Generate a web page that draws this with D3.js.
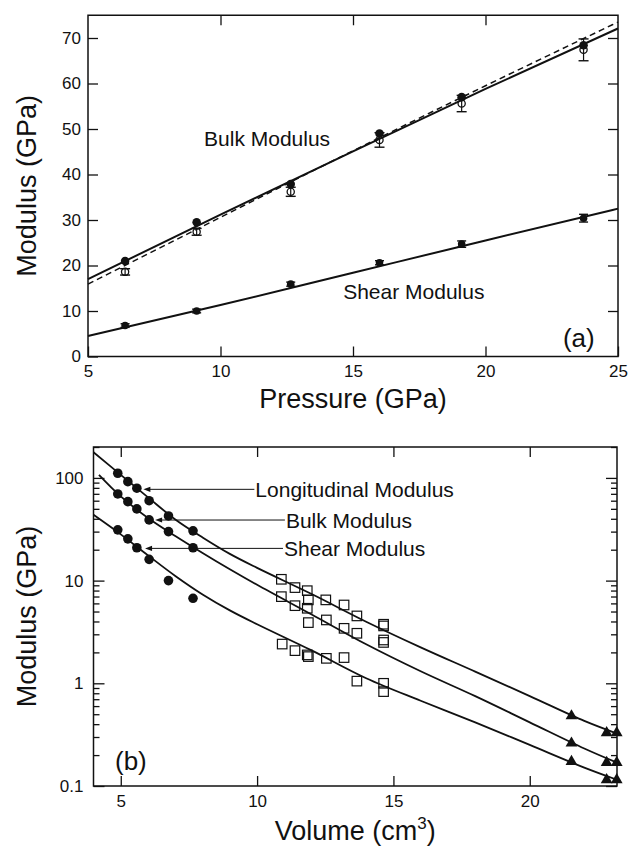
<!DOCTYPE html>
<html>
<head>
<meta charset="utf-8">
<script src="https://cdn.jsdelivr.net/npm/d3@7"></script>
<style>
  body { margin: 0; background: #fff; }
  text { font-family: "Liberation Sans", Arial, Helvetica, sans-serif; fill: #111; }
</style>
</head>
<body>
<svg id="chart" width="633" height="850"></svg>
<script>
//-------------panel (a) data: modulus vs pressure-----------
var pressure    = [6.4, 9.1, 12.65, 16.0, 19.1, 23.7];
var bulkFilled  = [21.0, 29.5, 37.9, 49.0, 57.0, 68.4];
var bulkOpen    = [18.6, 27.4, 36.2, 47.6, 55.6, 67.4];
var bulkOpenErr = [0.7, 0.75, 1.0, 1.6, 1.8, 2.4];
var shearFilled = [6.8, 10.0, 15.9, 20.6, 24.7, 30.4];
var shearErr    = [0.4, 0.4, 0.45, 0.45, 0.7, 0.85];

// fitted lines
var fitP        = [5, 10, 15, 20, 25];
var bulkFit     = [17.0, 31.2, 45.1, 58.8, 72.1];
var bulkFitDash = [15.9, 30.6, 45.2, 59.5, 73.5];
var shearFit    = [4.5, 11.3, 18.4, 25.5, 32.5];

var xTicksA = [5, 10, 15, 20, 25];
var yTicksA = [0, 10, 20, 30, 40, 50, 60, 70];

//-------------panel (b) data: modulus vs volume-------------
var volCircle   = [4.89, 5.26, 5.59, 6.04, 6.75, 7.65];
var longCircle  = [111, 92, 79.4, 60, 42.6, 30.5];
var bulkCircle  = [69.8, 58.7, 49.9, 39, 30, 20.9];
var shearCircle = [31.2, 25.5, 20.9, 16.1, 10.0, 6.73];

var volSquare = [10.89, 11.39, 11.84, 10.89, 11.88, 12.52, 13.19, 11.39, 11.84, 13.66,
                 12.54, 11.88, 14.64, 14.64, 13.19, 13.66, 14.64, 14.64, 10.92, 11.39,
                 11.84, 11.88, 12.54, 13.19, 13.66, 14.64, 14.64];
var modSquare = [10.3, 8.55, 7.98, 6.98, 6.49, 6.49, 5.79, 5.7, 5.38, 4.53,
                 4.14, 3.9, 3.76, 3.62, 3.43, 3.07, 2.64, 2.5, 2.41, 2.08,
                 1.89, 1.82, 1.75, 1.78, 1.05, 1.0, 0.83];

var volTri   = [21.53, 22.82, 23.19];
var longTri  = [0.481, 0.330, 0.330];
var bulkTri  = [0.261, 0.169, 0.169];
var shearTri = [0.173, 0.115, 0.115];

// model curves
var curveV      = [4, 5, 6, 7, 8, 9, 10, 12, 14, 16, 18, 20, 22, 23.2];
var bulkCurveV  = [4.2, 5, 6, 7, 8, 9, 10, 12, 14, 16, 18, 20, 22, 23.2];
var longCurve   = [178, 107, 64.6, 39.4, 26.3, 18.2, 13.3, 7.4, 3.98, 2.24, 1.30, 0.75, 0.43, 0.324];
var bulkCurve   = [107, 66, 40.7, 27.2, 18.6, 12.9, 9.1, 4.68, 2.4, 1.31, 0.75, 0.417, 0.232, 0.169];
var shearCurve  = [43.7, 28.2, 17.6, 11.1, 7.33, 5.13, 3.76, 2.09, 1.12, 0.676, 0.417, 0.251, 0.151, 0.115];

var xTicksB = [5, 10, 15, 20];
var yTicksB = [0.1, 1, 10, 100];
var yMinorB = [];
[0.1, 1, 10, 100].forEach(function(dec) {
  for (var k = 2; k <= 9; k++) { if (dec * k <= 200) yMinorB.push(dec * k); }
});

function zip(a, b) { return a.map(function(v, i) { return [v, b[i]]; }); }

var svg = d3.select("#chart");
svg.append("rect").attr("width", 633).attr("height", 850).attr("fill", "#fff");

var ink = "#111";

function styleAxis(g, size) {
  g.select(".domain").remove();
  g.selectAll("line").attr("stroke", ink).attr("stroke-width", 1.3);
  g.selectAll("text").attr("font-size", size).attr("fill", ink)
    .style("font-family", "'Liberation Sans', Arial, sans-serif");
}

function errBar(g, x, y0, y1, cap) {
  g.append("line").attr("x1", x).attr("x2", x).attr("y1", y0).attr("y2", y1)
    .attr("stroke", ink).attr("stroke-width", 1.2);
  [y0, y1].forEach(function(yy) {
    g.append("line").attr("x1", x - cap / 2).attr("x2", x + cap / 2).attr("y1", yy).attr("y2", yy)
      .attr("stroke", ink).attr("stroke-width", 1.4);
  });
}

//===================== panel (a) =====================
var xA = d3.scaleLinear().domain([5, 25]).range([88, 618]);
var yA = d3.scaleLinear().domain([0, 75]).range([356.5, 15.25]);
var gA = svg.append("g");

gA.append("g").attr("transform", "translate(0," + yA(0) + ")")
  .call(d3.axisBottom(xA).tickValues(xTicksA).tickSize(-10).tickSizeOuter(0).tickPadding(8))
  .call(styleAxis, 17);
gA.append("g").attr("transform", "translate(0," + yA(75) + ")")
  .call(d3.axisTop(xA).tickValues([10, 15, 20]).tickSize(-10).tickSizeOuter(0).tickFormat(""))
  .call(styleAxis, 17);
gA.append("g").attr("transform", "translate(" + xA(5) + ",0)")
  .call(d3.axisLeft(yA).tickValues(yTicksA).tickSize(-10).tickSizeOuter(0).tickPadding(7))
  .call(styleAxis, 17);
gA.append("g").attr("transform", "translate(" + xA(25) + ",0)")
  .call(d3.axisRight(yA).tickValues(yTicksA.slice(1)).tickSize(-10).tickSizeOuter(0).tickFormat(""))
  .call(styleAxis, 17);

gA.append("rect").attr("x", xA(5)).attr("y", yA(75))
  .attr("width", xA(25) - xA(5)).attr("height", yA(0) - yA(75))
  .attr("fill", "none").attr("stroke", ink).attr("stroke-width", 1.5);

var lineA = d3.line().x(function(d) { return xA(d[0]); }).y(function(d) { return yA(d[1]); })
  .curve(d3.curveMonotoneX);

gA.append("path").datum(zip(fitP, bulkFitDash)).attr("d", lineA)
  .attr("fill", "none").attr("stroke", ink).attr("stroke-width", 1.5).attr("stroke-dasharray", "6,4");
gA.append("path").datum(zip(fitP, bulkFit)).attr("d", lineA)
  .attr("fill", "none").attr("stroke", ink).attr("stroke-width", 2);
gA.append("path").datum(zip(fitP, shearFit)).attr("d", lineA)
  .attr("fill", "none").attr("stroke", ink).attr("stroke-width", 2);

// open bulk circles with error bars
pressure.forEach(function(p, i) {
  errBar(gA, xA(p), yA(bulkOpen[i] - bulkOpenErr[i]), yA(bulkOpen[i] + bulkOpenErr[i]), 10);
  errBar(gA, xA(p), yA(shearFilled[i] - shearErr[i]), yA(shearFilled[i] + shearErr[i]), 9);
});
gA.selectAll(".bopen").data(zip(pressure, bulkOpen)).enter().append("circle")
  .attr("cx", function(d) { return xA(d[0]); }).attr("cy", function(d) { return yA(d[1]); })
  .attr("r", 3.6).attr("fill", "none").attr("stroke", ink).attr("stroke-width", 1.3);
gA.selectAll(".bfill").data(zip(pressure, bulkFilled)).enter().append("circle")
  .attr("cx", function(d) { return xA(d[0]); }).attr("cy", function(d) { return yA(d[1]); })
  .attr("r", 4.3).attr("fill", ink);
gA.selectAll(".sfill").data(zip(pressure, shearFilled)).enter().append("circle")
  .attr("cx", function(d) { return xA(d[0]); }).attr("cy", function(d) { return yA(d[1]); })
  .attr("r", 3.8).attr("fill", ink);

gA.append("text").attr("x", xA(9.38)).attr("y", yA(46.3)).attr("font-size", 21).text("Bulk Modulus");
gA.append("text").attr("x", xA(14.63)).attr("y", yA(12.57)).attr("font-size", 21).text("Shear Modulus");
gA.append("text").attr("x", xA(22.92)).attr("y", yA(2.1)).attr("font-size", 26).text("(a)");

gA.append("text").attr("transform", "translate(36," + ((yA(0) + yA(75)) / 2) + ") rotate(-90)")
  .attr("text-anchor", "middle").attr("font-size", 27).text("Modulus (GPa)");
gA.append("text").attr("x", (xA(5) + xA(25)) / 2).attr("y", 408)
  .attr("text-anchor", "middle").attr("font-size", 27).text("Pressure (GPa)");

//===================== panel (b) =====================
var xB = d3.scaleLinear().domain([4, 23.2]).range([93.5, 617]);
var yB = d3.scaleLog().domain([0.1, 200]).range([786, 447]);
var gB = svg.append("g");

gB.append("g").attr("transform", "translate(0," + yB(0.1) + ")")
  .call(d3.axisBottom(xB).tickValues(xTicksB).tickSize(-10).tickSizeOuter(0).tickPadding(9))
  .call(styleAxis, 17);
gB.append("g").attr("transform", "translate(0," + yB(200) + ")")
  .call(d3.axisTop(xB).tickValues(xTicksB).tickSize(-10).tickSizeOuter(0).tickFormat(""))
  .call(styleAxis, 17);
gB.append("g").attr("transform", "translate(" + xB(4) + ",0)")
  .call(d3.axisLeft(yB).tickValues(yTicksB).tickSize(-11).tickSizeOuter(0).tickPadding(10)
    .tickFormat(function(d) { return d < 1 ? "0.1" : d3.format("d")(d); }))
  .call(styleAxis, 17);
gB.append("g").attr("transform", "translate(" + xB(4) + ",0)")
  .call(d3.axisLeft(yB).tickValues(yMinorB).tickSize(-6).tickSizeOuter(0).tickFormat(""))
  .call(styleAxis, 17);
gB.append("g").attr("transform", "translate(" + xB(23.2) + ",0)")
  .call(d3.axisRight(yB).tickValues(yTicksB).tickSize(-11).tickSizeOuter(0).tickFormat(""))
  .call(styleAxis, 17);
gB.append("g").attr("transform", "translate(" + xB(23.2) + ",0)")
  .call(d3.axisRight(yB).tickValues(yMinorB).tickSize(-6).tickSizeOuter(0).tickFormat(""))
  .call(styleAxis, 17);

gB.append("rect").attr("x", xB(4)).attr("y", yB(200))
  .attr("width", xB(23.2) - xB(4)).attr("height", yB(0.1) - yB(200))
  .attr("fill", "none").attr("stroke", ink).attr("stroke-width", 1.5);

var lineB = d3.line().x(function(d) { return xB(d[0]); }).y(function(d) { return yB(d[1]); })
  .curve(d3.curveCatmullRom.alpha(0.5));

[zip(curveV, longCurve), zip(bulkCurveV, bulkCurve), zip(curveV, shearCurve)].forEach(function(c) {
  gB.append("path").datum(c).attr("d", lineB)
    .attr("fill", "none").attr("stroke", ink).attr("stroke-width", 1.8);
});

[longCircle, bulkCircle, shearCircle].forEach(function(arr) {
  gB.selectAll(null).data(zip(volCircle, arr)).enter().append("circle")
    .attr("cx", function(d) { return xB(d[0]); }).attr("cy", function(d) { return yB(d[1]); })
    .attr("r", 4.8).attr("fill", ink);
});

var sq = 9.5;
gB.selectAll(".sq").data(zip(volSquare, modSquare)).enter().append("rect")
  .attr("x", function(d) { return xB(d[0]) - sq / 2; }).attr("y", function(d) { return yB(d[1]) - sq / 2; })
  .attr("width", sq).attr("height", sq)
  .attr("fill", "none").attr("stroke", ink).attr("stroke-width", 1.2);

var tri = d3.symbol().type(d3.symbolTriangle).size(60);
[longTri, bulkTri, shearTri].forEach(function(arr) {
  gB.selectAll(null).data(zip(volTri, arr)).enter().append("path")
    .attr("d", tri)
    .attr("transform", function(d) { return "translate(" + xB(d[0]) + "," + yB(d[1]) + ")"; })
    .attr("fill", ink);
});

// labels with arrows
var arrowLabels = [
  {text: "Longitudinal Modulus", tip: 5.83, end: 9.9, m: 77.4},
  {text: "Bulk Modulus", tip: 6.26, end: 11.02, m: 38.9},
  {text: "Shear Modulus", tip: 5.89, end: 10.95, m: 20.6}
];
arrowLabels.forEach(function(a) {
  var y = yB(a.m), x0 = xB(a.tip), x1 = xB(a.end);
  gB.append("line").attr("x1", x0 + 4).attr("x2", x1).attr("y1", y).attr("y2", y)
    .attr("stroke", ink).attr("stroke-width", 1);
  gB.append("path").attr("d", "M" + x0 + "," + y + "l7,-2.6l0,5.2z").attr("fill", ink);
  gB.append("text").attr("x", x1 + 1).attr("y", y + 7.5).attr("font-size", 21).text(a.text);
});

gB.append("text").attr("x", 115).attr("y", 770).attr("font-size", 26).text("(b)");

gB.append("text").attr("transform", "translate(36," + ((yB(0.1) + yB(200)) / 2) + ") rotate(-90)")
  .attr("text-anchor", "middle").attr("font-size", 27).text("Modulus (GPa)");
var vt = gB.append("text").attr("x", (xB(4) + xB(23.2)) / 2).attr("y", 840)
  .attr("text-anchor", "middle").attr("font-size", 27);
vt.append("tspan").text("Volume (cm");
vt.append("tspan").attr("font-size", 17).attr("dy", -11).text("3");
vt.append("tspan").attr("dy", 11).text(")");
</script>
</body>
</html>
